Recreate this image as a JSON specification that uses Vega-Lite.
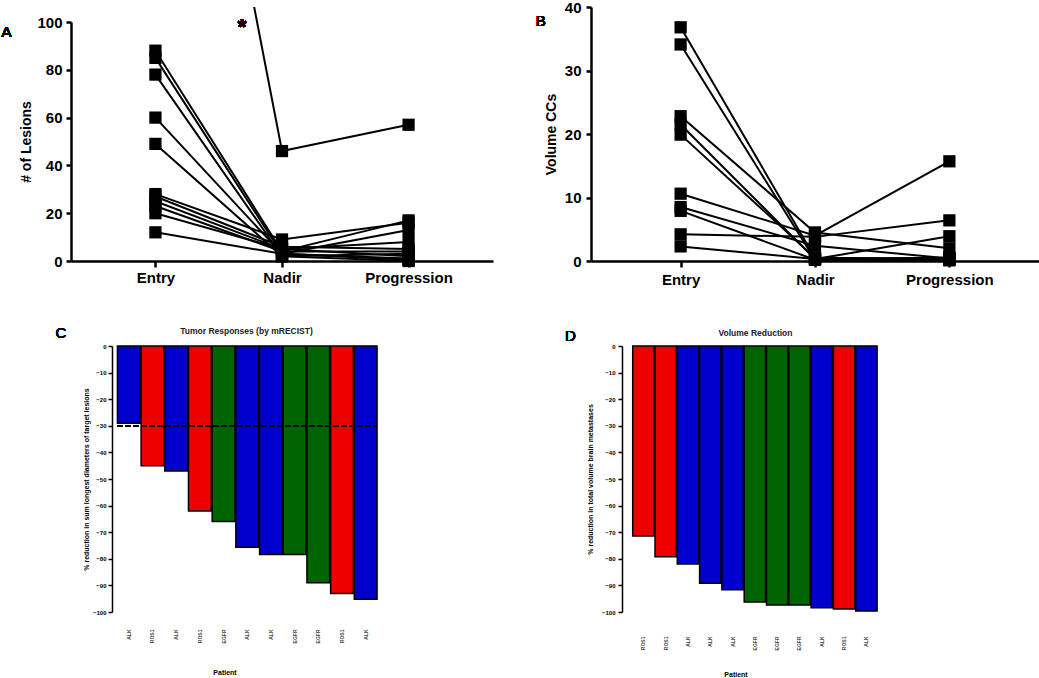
{
  "$schema": "https://vega.github.io/schema/vega-lite/v6.json",
  "background": "white",
  "padding": {"left": 1, "top": 0, "right": 0, "bottom": 0},
  "config": {
    "view": {"stroke": null},
    "font": "Liberation Sans",
    "axis": {"grid": false, "labelColor": "black", "titleColor": "black", "domainColor": "black", "tickColor": "black"}
  },
  "datasets": {
    "lesions": [
      {"patient": "P1", "time": "Entry", "v": 88}, {"patient": "P1", "time": "Nadir", "v": 4}, {"patient": "P1", "time": "Progression", "v": 17},
      {"patient": "P2", "time": "Entry", "v": 85}, {"patient": "P2", "time": "Nadir", "v": 3}, {"patient": "P2", "time": "Progression", "v": 13},
      {"patient": "P3", "time": "Entry", "v": 78}, {"patient": "P3", "time": "Nadir", "v": 2}, {"patient": "P3", "time": "Progression", "v": 0},
      {"patient": "P4", "time": "Entry", "v": 60}, {"patient": "P4", "time": "Nadir", "v": 3}, {"patient": "P4", "time": "Progression", "v": 1},
      {"patient": "P5", "time": "Entry", "v": 49}, {"patient": "P5", "time": "Nadir", "v": 2}, {"patient": "P5", "time": "Progression", "v": 3},
      {"patient": "P6", "time": "Entry", "v": 28}, {"patient": "P6", "time": "Nadir", "v": 9}, {"patient": "P6", "time": "Progression", "v": 16},
      {"patient": "P7", "time": "Entry", "v": 27}, {"patient": "P7", "time": "Nadir", "v": 6}, {"patient": "P7", "time": "Progression", "v": 5},
      {"patient": "P8", "time": "Entry", "v": 25}, {"patient": "P8", "time": "Nadir", "v": 5}, {"patient": "P8", "time": "Progression", "v": 8},
      {"patient": "P9", "time": "Entry", "v": 23}, {"patient": "P9", "time": "Nadir", "v": 4}, {"patient": "P9", "time": "Progression", "v": 4},
      {"patient": "P10", "time": "Entry", "v": 20}, {"patient": "P10", "time": "Nadir", "v": 5}, {"patient": "P10", "time": "Progression", "v": 2},
      {"patient": "P11", "time": "Entry", "v": 12}, {"patient": "P11", "time": "Nadir", "v": 3}, {"patient": "P11", "time": "Progression", "v": 0.5},
      {"patient": "P12", "time": "Entry", "v": 320}, {"patient": "P12", "time": "Nadir", "v": 46}, {"patient": "P12", "time": "Progression", "v": 57}
    ],
    "volume": [
      {"patient": "Q1", "time": "Entry", "v": 36.8}, {"patient": "Q1", "time": "Nadir", "v": 0.5}, {"patient": "Q1", "time": "Progression", "v": 0.3},
      {"patient": "Q2", "time": "Entry", "v": 34.1}, {"patient": "Q2", "time": "Nadir", "v": 0.2}, {"patient": "Q2", "time": "Progression", "v": 0.5},
      {"patient": "Q3", "time": "Entry", "v": 22.8}, {"patient": "Q3", "time": "Nadir", "v": 4.5}, {"patient": "Q3", "time": "Progression", "v": 2.0},
      {"patient": "Q4", "time": "Entry", "v": 21.5}, {"patient": "Q4", "time": "Nadir", "v": 0.3}, {"patient": "Q4", "time": "Progression", "v": 3.9},
      {"patient": "Q5", "time": "Entry", "v": 19.9}, {"patient": "Q5", "time": "Nadir", "v": 0.5}, {"patient": "Q5", "time": "Progression", "v": 0.2},
      {"patient": "Q6", "time": "Entry", "v": 10.6}, {"patient": "Q6", "time": "Nadir", "v": 4.0}, {"patient": "Q6", "time": "Progression", "v": 15.7},
      {"patient": "Q7", "time": "Entry", "v": 8.5}, {"patient": "Q7", "time": "Nadir", "v": 2.4}, {"patient": "Q7", "time": "Progression", "v": 0.4},
      {"patient": "Q8", "time": "Entry", "v": 7.9}, {"patient": "Q8", "time": "Nadir", "v": 0.2}, {"patient": "Q8", "time": "Progression", "v": 0.1},
      {"patient": "Q9", "time": "Entry", "v": 4.2}, {"patient": "Q9", "time": "Nadir", "v": 3.8}, {"patient": "Q9", "time": "Progression", "v": 6.4},
      {"patient": "Q10", "time": "Entry", "v": 2.3}, {"patient": "Q10", "time": "Nadir", "v": 0.3}, {"patient": "Q10", "time": "Progression", "v": 0.5}
    ],
    "recist": [
      {"id": "ALK_1", "gene": "ALK", "change": -29},
      {"id": "ROS1_2", "gene": "ROS1", "change": -45},
      {"id": "ALK_3", "gene": "ALK", "change": -47},
      {"id": "ROS1_4", "gene": "ROS1", "change": -62},
      {"id": "EGFR_5", "gene": "EGFR", "change": -66},
      {"id": "ALK_6", "gene": "ALK", "change": -75.7},
      {"id": "ALK_7", "gene": "ALK", "change": -78.4},
      {"id": "EGFR_8", "gene": "EGFR", "change": -78.4},
      {"id": "EGFR_9", "gene": "EGFR", "change": -89},
      {"id": "ROS1_10", "gene": "ROS1", "change": -93},
      {"id": "ALK_11", "gene": "ALK", "change": -95.2}
    ],
    "volred": [
      {"id": "ROS1_1", "gene": "ROS1", "change": -71.4},
      {"id": "ROS1_2", "gene": "ROS1", "change": -79.2},
      {"id": "ALK_3", "gene": "ALK", "change": -82},
      {"id": "ALK_4", "gene": "ALK", "change": -89.2},
      {"id": "ALK_5", "gene": "ALK", "change": -91.6},
      {"id": "EGFR_6", "gene": "EGFR", "change": -96.2},
      {"id": "EGFR_7", "gene": "EGFR", "change": -97.4},
      {"id": "EGFR_8", "gene": "EGFR", "change": -97.4},
      {"id": "ALK_9", "gene": "ALK", "change": -98.4},
      {"id": "ROS1_10", "gene": "ROS1", "change": -98.9},
      {"id": "ALK_11", "gene": "ALK", "change": -99.6}
    ]
  },
  "columns": 2,
  "bounds": "flush",
  "align": "each",
  "spacing": {"column": 98, "row": 85},
  "concat": [
    {
      "width": 422,
      "height": 254,
      "data": {"name": "lesions"},
      "encoding": {
        "x": {"field": "time", "type": "ordinal", "scale": {"type": "point", "padding": 0.667, "domain": ["Entry", "Nadir", "Progression"]},
          "axis": {"title": null, "labelAngle": 0, "labelFontSize": 15, "labelFontWeight": "bold", "labelPadding": 3, "tickSize": 6, "tickWidth": 2.5, "domainWidth": 2.5}},
        "y": {"field": "v", "type": "quantitative", "scale": {"domain": [0, 100], "range": [254, 15]},
          "axis": {"title": "# of Lesions", "values": [0, 20, 40, 60, 80, 100], "tickCount": 10, "labelFontSize": 15, "labelFontWeight": "bold", "labelPadding": 4, "tickSize": 5, "tickWidth": 2.5, "domainWidth": 2.5, "titleFontSize": 14, "titleFontWeight": "bold", "titlePadding": 3}}
      },
      "layer": [
        {"mark": {"type": "line", "color": "black", "strokeWidth": 2, "clip": true}, "encoding": {"detail": {"field": "patient"}}},
        {"transform": [{"filter": "datum.v <= 100"}], "mark": {"type": "point", "shape": "square", "filled": true, "color": "black", "opacity": 1, "size": 150}},
        {"mark": {"type": "text", "text": "*", "fontSize": 22, "fontWeight": "bold", "color": "black", "baseline": "middle", "dx": -40, "dy": 3}, "encoding": {"x": {"datum": "Nadir"}, "y": {"datum": 99}}},
        {"mark": {"type": "text", "text": "A", "fontSize": 15, "fontWeight": "normal", "color": "black", "baseline": "middle", "dx": -149}, "encoding": {"x": {"datum": "Entry"}, "y": {"datum": 96}}}
      ]
    },
    {
      "width": 448,
      "height": 254,
      "data": {"name": "volume"},
      "encoding": {
        "x": {"field": "time", "type": "ordinal", "scale": {"type": "point", "padding": 0.667, "domain": ["Entry", "Nadir", "Progression"]},
          "axis": {"title": null, "labelAngle": 0, "labelFontSize": 15, "labelFontWeight": "bold", "labelPadding": 5, "tickSize": 6, "tickWidth": 2.5, "domainWidth": 2.5}},
        "y": {"field": "v", "type": "quantitative", "scale": {"domain": [0, 40]},
          "axis": {"title": "Volume CCs", "values": [0, 10, 20, 30, 40], "tickCount": 10, "labelFontSize": 15, "labelFontWeight": "bold", "labelPadding": 5, "tickSize": 5, "tickWidth": 2.5, "domainWidth": 2.5, "titleFontSize": 14, "titleFontWeight": "bold", "titlePadding": 6}}
      },
      "layer": [
        {"mark": {"type": "line", "color": "black", "strokeWidth": 2}, "encoding": {"detail": {"field": "patient"}}},
        {"mark": {"type": "point", "shape": "square", "filled": true, "color": "black", "opacity": 1, "size": 150}},
        {"mark": {"type": "text", "text": "B", "fontSize": 15, "fontWeight": "normal", "color": "black", "baseline": "middle", "dx": -140}, "encoding": {"x": {"datum": "Entry"}, "y": {"datum": 37.8}}}
      ]
    },
    {
      "width": 307,
      "height": 266,
      "title": {"text": "Tumor Responses (by mRECIST)", "fontSize": 8.5, "fontWeight": "bold", "frame": "group", "anchor": "middle", "dx": 22, "offset": -9, "color": "#222"},
      "data": {"name": "recist"},
      "layer": [
        {
          "mark": {"type": "bar", "stroke": "black", "strokeWidth": 1.5},
          "encoding": {
            "x": {"field": "id", "type": "nominal", "sort": null, "scale": {"paddingInner": 0.04, "paddingOuter": 1.12, "align": 0.98},
              "axis": {"title": "Patient", "labelExpr": "split(datum.label, '_')[0]", "labelAngle": -90, "labelFontSize": 5, "labelFontWeight": "bold", "labelColor": "#444", "labelPadding": 17, "ticks": false, "domain": false, "titleFontSize": 7, "titleFontWeight": "bold", "titlePadding": 26}},
            "y": {"field": "change", "type": "quantitative", "scale": {"domain": [-100, 0]},
              "axis": {"title": "% reduction in sum longest diameters of target lesions", "offset": -41, "values": [-100, -90, -80, -70, -60, -50, -40, -30, -20, -10, 0], "tickCount": 20, "labelOverlap": false, "labelFontSize": 6, "labelFontWeight": "bold", "labelPadding": 2, "tickSize": 4, "tickWidth": 1.5, "domainWidth": 1.5, "titleFontSize": 7, "titleFontWeight": "bold", "titlePadding": 3}},
            "color": {"field": "gene", "type": "nominal", "scale": {"domain": ["ALK", "ROS1", "EGFR"], "range": ["#0000CC", "#EE0000", "#006400"]}, "legend": null}
          }
        },
        {"mark": {"type": "rule", "color": "black", "strokeWidth": 1.5, "strokeDash": [5, 3]},
          "encoding": {"x": {"datum": "ALK_1", "bandPosition": 0}, "x2": {"datum": "ALK_11", "bandPosition": 1}, "y": {"datum": -30}}},
        {"mark": {"type": "text", "text": "C", "fontSize": 15, "fontWeight": "normal", "color": "black", "baseline": "middle", "dx": -68, "dy": -13}, "encoding": {"x": {"datum": "ALK_1"}, "y": {"datum": 0}}}
      ]
    },
    {
      "width": 289,
      "height": 266,
      "title": {"text": "Volume Reduction", "fontSize": 8.5, "fontWeight": "bold", "frame": "group", "anchor": "middle", "dx": 20, "offset": -8, "color": "#222"},
      "data": {"name": "volred"},
      "layer": [
        {
          "mark": {"type": "bar", "stroke": "black", "strokeWidth": 1.5},
          "encoding": {
            "x": {"field": "id", "type": "nominal", "sort": null, "scale": {"paddingInner": 0.04, "paddingOuter": 1.04, "align": 0.935},
              "axis": {"title": "Patient", "labelExpr": "split(datum.label, '_')[0]", "labelAngle": -90, "labelFontSize": 5, "labelFontWeight": "bold", "labelColor": "#444", "labelPadding": 24, "ticks": false, "domain": false, "titleFontSize": 7, "titleFontWeight": "bold", "titlePadding": 21}},
            "y": {"field": "change", "type": "quantitative", "scale": {"domain": [-100, 0]},
              "axis": {"title": "% reduction in total volume brain metastases", "offset": -31, "values": [-100, -90, -80, -70, -60, -50, -40, -30, -20, -10, 0], "tickCount": 20, "labelOverlap": false, "labelFontSize": 6, "labelFontWeight": "bold", "labelPadding": 3, "tickSize": 4, "tickWidth": 1.5, "domainWidth": 1.5, "titleFontSize": 7, "titleFontWeight": "bold", "titlePadding": 8}},
            "color": {"field": "gene", "type": "nominal", "scale": {"domain": ["ALK", "ROS1", "EGFR"], "range": ["#0000CC", "#EE0000", "#006400"]}, "legend": null}
          }
        },
        {"mark": {"type": "text", "text": "D", "fontSize": 15, "fontWeight": "normal", "color": "black", "baseline": "middle", "dx": -73, "dy": -10}, "encoding": {"x": {"datum": "ROS1_1"}, "y": {"datum": 0}}}
      ]
    }
  ]
}
